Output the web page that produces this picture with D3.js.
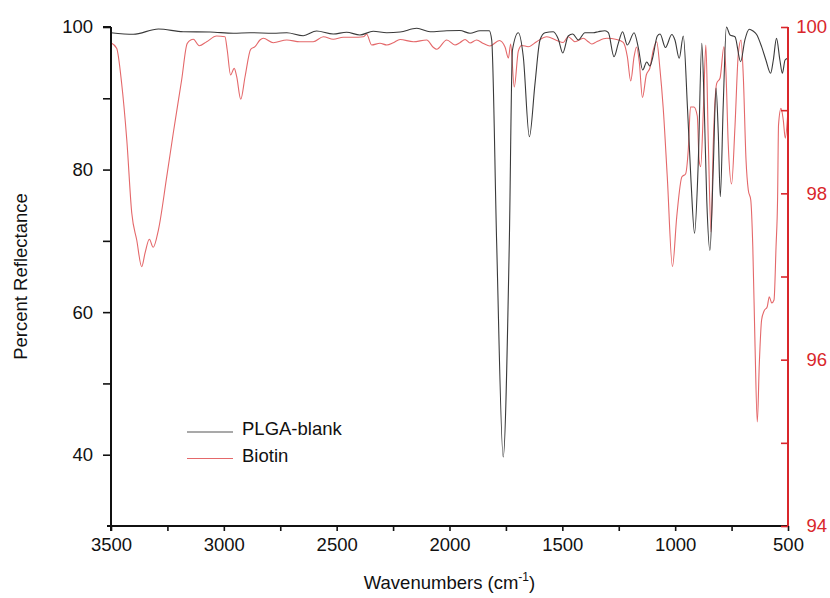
<!DOCTYPE html>
<html>
<head>
<meta charset="utf-8">
<script src="https://cdn.jsdelivr.net/npm/d3@7"></script>
<style>
  html, body { margin: 0; padding: 0; background: #fff; }
  svg { display: block; font-family: "Liberation Sans", Arial, sans-serif; }
</style>
</head>
<body>
<svg id="chart" width="830" height="598"></svg>
<script>
// ---- data ----
const xTickValues = [3500, 3000, 2500, 2000, 1500, 1000, 500];
const leftTickValues = [40, 60, 80, 100];
const rightTickValues = [94, 96, 98, 100];
const seriesNames = ["PLGA-blank", "Biotin"];

// PLGA-blank (left axis, Percent Reflectance)
const blankWn = [3500, 3401, 3290, 3180, 3061, 2958, 2884, 2781, 2721, 2648, 2589, 2515, 2456, 2397, 2338, 2278, 2219, 2145, 2086, 2012, 1954, 1909, 1865, 1824, 1813, 1791, 1762, 1735, 1721, 1695, 1673, 1646, 1621, 1599, 1577, 1540, 1518, 1498, 1474, 1454, 1429, 1400, 1363, 1341, 1311, 1296, 1271, 1252, 1233, 1212, 1182, 1163, 1144, 1126, 1112, 1100, 1079, 1067, 1043, 1015, 1001, 982, 964, 945, 930, 914, 898, 882, 872, 860, 846, 831, 819, 809, 800, 787, 773, 757, 735, 710, 691, 672, 655, 639, 617, 598, 577, 565, 551, 536, 525, 513, 501];
const blankVal = [99.20, 98.98, 99.72, 99.34, 99.30, 99.12, 99.20, 99.12, 99.20, 98.78, 99.44, 99.02, 99.26, 98.88, 99.40, 99.20, 99.30, 99.82, 99.34, 99.48, 99.51, 99.12, 99.48, 99.48, 98.18, 69.70, 39.68, 69.70, 96.77, 99.20, 95.83, 84.61, 92.10, 98.18, 99.20, 99.34, 98.32, 96.35, 98.74, 99.02, 98.18, 99.20, 99.20, 99.34, 99.48, 99.20, 95.83, 97.71, 99.34, 97.47, 99.20, 97.05, 93.97, 95.09, 94.53, 95.65, 98.74, 99.02, 97.12, 98.95, 98.18, 95.61, 98.74, 88.36, 78.54, 71.06, 80.64, 97.71, 89.76, 75.73, 68.65, 80.40, 91.44, 85.13, 76.19, 89.06, 100.0, 98.88, 98.64, 95.13, 98.18, 99.68, 99.44, 98.95, 97.24, 95.37, 93.51, 95.37, 98.41, 95.37, 93.51, 95.37, 95.61];

// Biotin (right axis)
const biotinWn = [3500, 3475, 3453, 3430, 3408, 3386, 3364, 3349, 3330, 3313, 3290, 3253, 3224, 3187, 3162, 3135, 3109, 3076, 3032, 2995, 2985, 2970, 2954, 2943, 2925, 2906, 2881, 2862, 2840, 2825, 2781, 2721, 2663, 2604, 2559, 2515, 2471, 2426, 2382, 2367, 2345, 2308, 2278, 2249, 2219, 2160, 2101, 2072, 2057, 2012, 1976, 1954, 1931, 1909, 1880, 1850, 1821, 1779, 1754, 1739, 1729, 1713, 1695, 1680, 1651, 1614, 1569, 1525, 1496, 1474, 1444, 1407, 1385, 1370, 1348, 1303, 1259, 1230, 1212, 1197, 1182, 1171, 1159, 1145, 1128, 1112, 1097, 1082, 1067, 1053, 1035, 1012, 993, 970, 954, 942, 932, 917, 902, 894, 887, 875, 864, 853, 841, 831, 816, 801, 784, 775, 765, 750, 735, 720, 708, 698, 686, 676, 665, 656, 646, 636, 627, 617, 606, 592, 583, 572, 562, 553, 546, 542, 531, 521, 512, 501];
const biotinVal = [99.811, 99.744, 99.327, 98.641, 97.763, 97.439, 97.118, 97.283, 97.447, 97.351, 97.559, 98.200, 98.725, 99.363, 99.804, 99.852, 99.775, 99.823, 99.892, 99.883, 99.723, 99.423, 99.503, 99.402, 99.131, 99.402, 99.732, 99.763, 99.844, 99.864, 99.811, 99.844, 99.823, 99.823, 99.883, 99.852, 99.876, 99.876, 99.883, 99.912, 99.784, 99.804, 99.784, 99.811, 99.850, 99.823, 99.844, 99.756, 99.732, 99.844, 99.784, 99.811, 99.850, 99.808, 99.844, 99.802, 99.772, 99.838, 99.760, 99.627, 99.796, 99.279, 99.711, 99.778, 99.763, 99.823, 99.883, 99.838, 99.814, 99.883, 99.823, 99.864, 99.823, 99.796, 99.823, 99.864, 99.850, 99.814, 99.643, 99.351, 99.643, 99.760, 99.579, 99.152, 99.423, 99.507, 99.723, 99.823, 99.483, 99.026, 98.200, 97.118, 97.719, 98.200, 98.232, 98.521, 99.038, 99.038, 98.930, 98.401, 98.320, 99.002, 99.784, 98.605, 97.535, 98.605, 99.323, 99.387, 99.763, 99.459, 98.605, 98.112, 98.801, 99.684, 99.844, 99.402, 98.401, 98.040, 97.920, 97.358, 96.156, 95.250, 95.960, 96.477, 96.585, 96.637, 96.757, 96.681, 96.717, 97.358, 97.960, 98.822, 99.022, 98.882, 98.662, 98.962];

// ---- layout ----
const svg = d3.select("#chart");
const X0 = 111, X1 = 788, Y0 = 526, Y1 = 27;
const black = "#111";
const red = "#d9262b";
const fs = 18.5;

const x = d3.scaleLinear().domain([3500, 500]).range([X0, X1]);
const yL = d3.scaleLinear().domain([30, 100]).range([Y0, Y1]);
const yR = d3.scaleLinear().domain([94, 100]).range([Y0, Y1]);

const blank = blankWn.map((w, i) => ({ w, v: blankVal[i] }));
const biotin = biotinWn.map((w, i) => ({ w, v: biotinVal[i] }));

// series
svg.append("path")
  .datum(biotin)
  .attr("fill", "none")
  .attr("stroke", "#e4686a")
  .attr("stroke-width", 1.1)
  .attr("d", d3.line().x(d => x(d.w)).y(d => yR(d.v)).curve(d3.curveMonotoneX));

svg.append("path")
  .datum(blank)
  .attr("fill", "none")
  .attr("stroke", "#3a3a3a")
  .attr("stroke-width", 1.1)
  .attr("d", d3.line().x(d => x(d.w)).y(d => yL(d.v)).curve(d3.curveMonotoneX));

// bottom axis
const xAxis = d3.axisBottom(x)
  .tickValues(d3.range(3500, 499, -250))
  .tickSize(5)
  .tickFormat(d => xTickValues.includes(d) ? d : "");
const gx = svg.append("g").attr("transform", `translate(0,${Y0})`).call(xAxis);
gx.select(".domain").attr("stroke", black).attr("stroke-width", 2).attr("d", `M${X0 - 4},0H${X1}`);
gx.selectAll(".tick line").attr("stroke", black).attr("stroke-width", 1.6);
gx.selectAll(".tick text").attr("font-size", fs).attr("fill", black).attr("y", 12).attr("dy", "0.71em").attr("font-family", "Liberation Sans, Arial, sans-serif");

// left axis
const yAxisL = d3.axisLeft(yL)
  .tickValues(d3.range(40, 101, 10))
  .tickSize(8)
  .tickFormat(d => leftTickValues.includes(d) ? d : "");
const gl = svg.append("g").attr("transform", `translate(${X0},0)`).call(yAxisL);
gl.select(".domain").attr("stroke", black).attr("stroke-width", 2).attr("d", `M0,${Y1}V${Y0 + 5}`);
gl.selectAll(".tick line").attr("stroke", black).attr("stroke-width", 1.6);
gl.selectAll(".tick text").attr("font-size", fs).attr("fill", black).attr("x", -18).attr("font-family", "Liberation Sans, Arial, sans-serif");
gl.append("line").attr("x1", -8).attr("x2", 0).attr("y1", Y1).attr("y2", Y1).attr("stroke", black).attr("stroke-width", 2);

// right axis (ticks pointing inward, labels right-aligned)
const yAxisR = d3.axisRight(yR)
  .tickValues(d3.range(94, 100.01, 1))
  .tickSize(-7)
  .tickFormat(d => rightTickValues.includes(d) ? d : "");
const gr = svg.append("g").attr("transform", `translate(${X1},0)`).call(yAxisR);
gr.select(".domain").attr("stroke", red).attr("stroke-width", 2).attr("d", `M0,${Y1}V${Y0}`);
gr.selectAll(".tick line").attr("stroke", red).attr("stroke-width", 1.6);
gr.selectAll(".tick text").attr("font-size", fs).attr("fill", red).attr("x", 39)
  .attr("text-anchor", "end").attr("font-family", "Liberation Sans, Arial, sans-serif");

// axis titles
svg.append("text")
  .attr("transform", `translate(27,${(Y0 + Y1) / 2}) rotate(-90)`)
  .attr("text-anchor", "middle")
  .attr("font-size", 18.5)
  .attr("fill", black)
  .text("Percent Reflectance");

const xt = svg.append("text")
  .attr("x", (X0 + X1) / 2)
  .attr("y", 589)
  .attr("text-anchor", "middle")
  .attr("font-size", 18.5)
  .attr("fill", black);
xt.append("tspan").text("Wavenumbers (cm");
xt.append("tspan").attr("font-size", 12).attr("dy", -8).text("-1");
xt.append("tspan").attr("dy", 8).text(")");

// legend
const legend = svg.append("g");
const legColors = ["#555", "#e4686a"];
seriesNames.forEach((name, i) => {
  const ly = 432 + i * 26.5;
  legend.append("line").attr("x1", 187).attr("x2", 233).attr("y1", ly).attr("y2", ly)
    .attr("stroke", legColors[i]).attr("stroke-width", 1.1);
  legend.append("text").attr("x", 242).attr("y", ly + 3).attr("font-size", fs)
    .attr("fill", black).text(name);
});
</script>
</body>
</html>
